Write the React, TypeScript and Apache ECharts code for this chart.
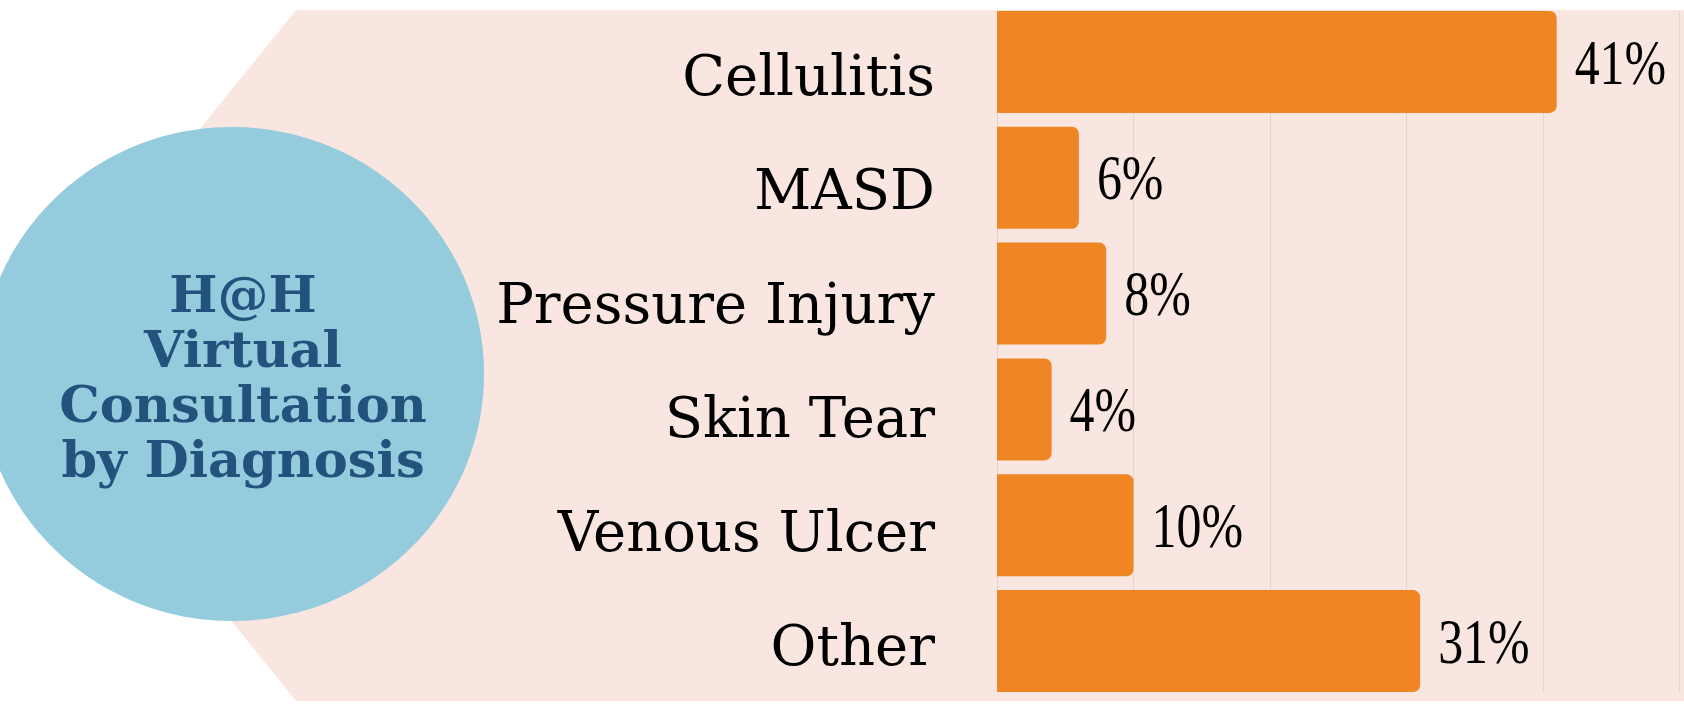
import React, { useEffect, useRef } from "react";
import * as echarts from "echarts";

const categories = ["Cellulitis", "MASD", "Pressure Injury", "Skin Tear", "Venous Ulcer", "Other"];
const values = [41, 6, 8, 4, 10, 31];
const titleLines = ["H@H", "Virtual", "Consultation", "by Diagnosis"];
const axisMin = 0;
const axisMax = 50;
const axisInterval = 10;

const PINK = "#F9E6E0";
const ORANGE = "#EF8623";
const CIRCLE = "#94CBDD";
const TITLE = "#23527C";
const GRIDLINE = "#E6D3CD";

export default function App() {
  const ref = useRef<HTMLDivElement>(null);
  useEffect(() => {
    if (!ref.current) return;
    const chart = echarts.init(ref.current, null, { renderer: "svg" });
    const gridLeft = 997;
    const gridRight = 4.5;
    chart.setOption({
      animation: false,
      backgroundColor: "#ffffff",
      grid: [
        { left: gridLeft, right: gridRight, top: 4, bottom: 7, containLabel: false },
        { left: gridLeft, right: gridRight, top: 11, bottom: 14.5, containLabel: false },
        { left: gridLeft, right: gridRight, top: 18, bottom: 4, containLabel: false },
      ],
      xAxis: [
        { type: "value", gridIndex: 0, min: axisMin, max: axisMax, interval: axisInterval, show: false },
        {
          type: "value",
          gridIndex: 1,
          min: axisMin,
          max: axisMax,
          interval: axisInterval,
          axisLine: { show: false },
          axisTick: { show: false },
          axisLabel: { show: false },
          splitLine: { show: true, lineStyle: { color: GRIDLINE, width: 1 } },
        },
        { type: "value", gridIndex: 2, min: axisMin, max: axisMax, interval: axisInterval, show: false },
      ],
      yAxis: [
        {
          type: "category",
          gridIndex: 0,
          data: categories,
          inverse: true,
          axisLine: { show: false },
          axisTick: { show: false },
          splitLine: { show: false },
          axisLabel: { show: false },
        },
        { type: "value", gridIndex: 1, min: 0, max: 1, show: false },
        {
          type: "category",
          gridIndex: 2,
          data: categories,
          inverse: true,
          axisLine: { show: false },
          axisTick: { show: false },
          splitLine: { show: false },
          axisLabel: {
            margin: 62,
            color: "#000000",
            fontFamily: "DejaVu Serif",
            fontSize: 56,
          },
        },
      ],
      graphic: {
        elements: [
          {
            type: "polygon",
            z: -100,
            silent: true,
            shape: {
              points: [
                [296, 10],
                [1684, 10],
                [1684, 701],
                [296, 701],
                [17, 355],
              ],
            },
            style: { fill: PINK },
          },
          {
            type: "ellipse",
            z: 100,
            silent: true,
            shape: { cx: 232, cy: 374, rx: 252, ry: 247 },
            style: { fill: CIRCLE },
          },
          {
            type: "text",
            z: 101,
            silent: true,
            x: 243,
            y: 376,
            style: {
              text: titleLines.join("\n"),
              fill: TITLE,
              font: 'bold 51px "DejaVu Serif"',
              lineHeight: 55,
              align: "center",
              verticalAlign: "middle",
            },
          },
        ],
      },
      series: [
        {
          type: "bar",
          xAxisIndex: 0,
          yAxisIndex: 0,
          data: values,
          barCategoryGap: "12%",
          itemStyle: { color: ORANGE, borderRadius: [0, 7, 7, 0] },
          silent: true,
        },
        {
          type: "custom",
          xAxisIndex: 0,
          yAxisIndex: 0,
          silent: true,
          z: 5,
          data: values.map((v, i) => [v, i]),
          encode: { x: 0, y: 1 },
          renderItem: (params: any, api: any) => {
            const v = api.value(0);
            const i = api.value(1);
            const p = api.coord([v, i]);
            return {
              type: "text",
              x: p[0] + 18,
              y: p[1],
              scaleX: 0.78,
              style: {
                text: v + "%",
                fill: "#000000",
                fontFamily: "Liberation Serif",
                fontSize: 64,
                align: "left",
                verticalAlign: "middle",
              },
            };
          },
        },
      ],
    });
    return () => chart.dispose();
  }, []);
  return (
    <div
      ref={ref}
      style={{ position: "fixed", left: 0, top: 0, width: 1684, height: 706 }}
    />
  );
}
